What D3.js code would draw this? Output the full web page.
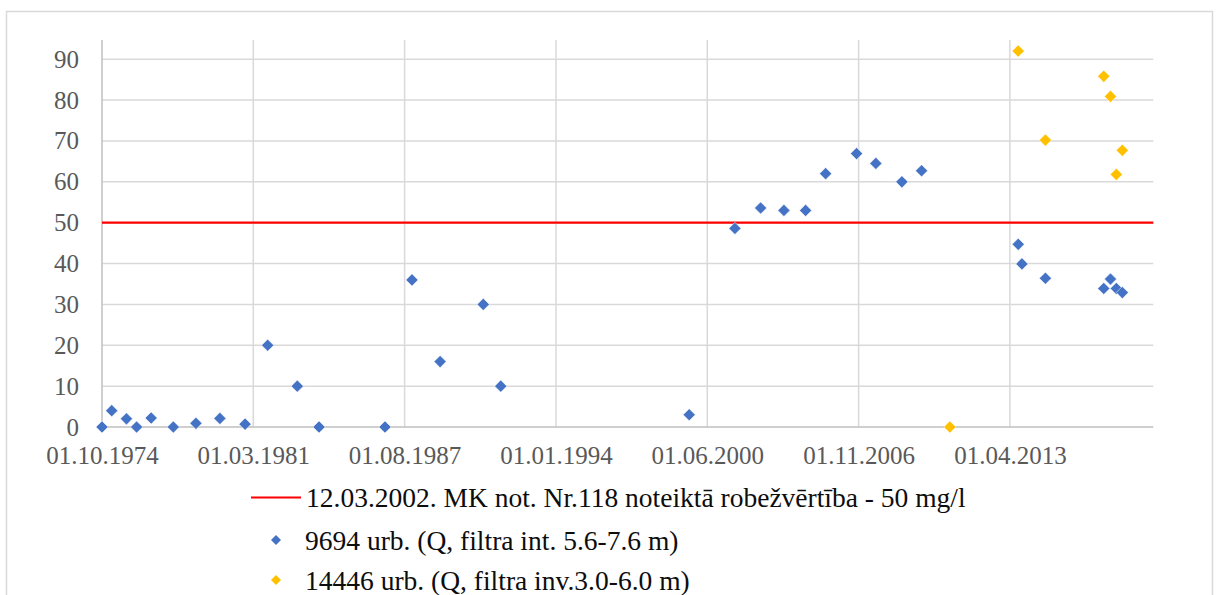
<!DOCTYPE html>
<html>
<head>
<meta charset="utf-8">
<script src="https://cdn.jsdelivr.net/npm/d3@7"></script>
<style>
  body { margin: 0; background: #fff; }
  text { font-family: "Times New Roman", "Liberation Serif", serif; }
</style>
</head>
<body>
<div id="chart"></div>
<script>
// Data (values in mg/l)
const blueDates = ["1974-10-01", "1975-03-01", "1975-10-15", "1976-03-20", "1976-11-01", "1977-10-10",
  "1978-09-25", "1979-10-01", "1980-10-25", "1981-10-10", "1983-01-12", "1983-12-15", "1986-10-01",
  "1987-11-23", "1989-02-01", "1990-12-01", "1991-08-29", "1999-08-26", "2001-08-03", "2002-09-05",
  "2003-09-01", "2004-08-02", "2005-06-08", "2006-09-30", "2007-07-26", "2008-09-01", "2009-07-03",
  "2013-08-08", "2013-10-04", "2014-10-03", "2017-03-25", "2017-07-07", "2017-10-05", "2018-01-06"];
const blueValues = [0, 4, 2, 0, 2.2, 0, 0.9, 2.1, 0.7, 20, 10, 0, 0, 36, 16, 30, 10, 3, 48.6, 53.6,
  53, 53, 62, 66.9, 64.5, 60, 62.7, 44.7, 39.9, 36.4, 33.9, 36.2, 33.9, 32.9];

const orangeDates = ["2010-09-14", "2013-08-08", "2014-10-03", "2017-03-25", "2017-07-07", "2017-10-05", "2018-01-06"];
const orangeValues = [0, 92, 70.2, 85.8, 80.9, 61.8, 67.7];

const limitValue = 50;
const xTickLabels = ["01.10.1974", "01.03.1981", "01.08.1987", "01.01.1994", "01.06.2000", "01.11.2006", "01.04.2013"];
const yTickValues = [0, 10, 20, 30, 40, 50, 60, 70, 80, 90];

const legendLabels = [
  "12.03.2002. MK not. Nr.118 noteiktā robežvērtība - 50 mg/l",
  "9694 urb. (Q, filtra int. 5.6-7.6 m)",
  "14446 urb. (Q, filtra inv.3.0-6.0 m)"
];

// Setup
const width = 1219;
const height = 595;
const parseIso = d3.utcParse("%Y-%m-%d");
const parseTick = d3.utcParse("%d.%m.%Y");

const svg = d3.select("#chart")
  .append("svg")
  .attr("width", width)
  .attr("height", height);

// chart area border
svg.append("rect")
  .attr("x", 6.5).attr("y", 11.5)
  .attr("width", 1206).attr("height", 600)
  .attr("fill", "none")
  .attr("stroke", "#d9d9d9")
  .attr("stroke-width", 1.5);

const x = d3.scaleUtc()
  .domain([parseIso("1974-10-01"), parseIso("2019-05-01")])
  .range([102, 1153.3]);

const y = d3.scaleLinear()
  .domain([0, 94.7])
  .range([427, 40]);

const tickDates = xTickLabels.map(parseTick);

// gridlines
const grid = svg.append("g");
grid.selectAll(".hgrid")
  .data(yTickValues.slice(1))
  .join("line")
  .attr("x1", x.range()[0]).attr("x2", x.range()[1])
  .attr("y1", d => y(d)).attr("y2", d => y(d))
  .attr("stroke", "#d9d9d9").attr("stroke-width", 1.5);

grid.selectAll(".vgrid")
  .data(tickDates.slice(1))
  .join("line")
  .attr("x1", d => x(d)).attr("x2", d => x(d))
  .attr("y1", y.range()[1]).attr("y2", y(0))
  .attr("stroke", "#d9d9d9").attr("stroke-width", 1.5);

// axis lines
svg.append("line")
  .attr("x1", x.range()[0]).attr("x2", x.range()[0])
  .attr("y1", y.range()[1]).attr("y2", y(0))
  .attr("stroke", "#bfbfbf").attr("stroke-width", 1.5);
svg.append("line")
  .attr("x1", x.range()[0]).attr("x2", x.range()[1])
  .attr("y1", y(0)).attr("y2", y(0))
  .attr("stroke", "#bfbfbf").attr("stroke-width", 1.5);

// axes (labels only)
const xAxis = svg.append("g")
  .attr("transform", `translate(0,${y(0)})`)
  .call(d3.axisBottom(x)
    .tickValues(tickDates)
    .tickFormat(d3.utcFormat("%d.%m.%Y"))
    .tickSize(0)
    .tickPadding(19));

const yAxis = svg.append("g")
  .attr("transform", `translate(${x.range()[0]},0)`)
  .call(d3.axisLeft(y)
    .tickValues(yTickValues)
    .tickSize(0)
    .tickPadding(23));

[xAxis, yAxis].forEach(a => {
  a.select(".domain").remove();
  a.selectAll("text")
    .attr("fill", "#595959")
    .style("font-family", "'Times New Roman', 'Liberation Serif', serif")
    .style("font-size", "25px");
});

// limit line
svg.append("line")
  .attr("x1", x.range()[0]).attr("x2", x.range()[1])
  .attr("y1", y(limitValue)).attr("y2", y(limitValue))
  .attr("stroke", "#ff0000").attr("stroke-width", 2.2);

// markers
const diamond = d3.symbol().type(d3.symbolSquare).size(74);
const smallDiamond = d3.symbol().type(d3.symbolSquare).size(50);

function drawSeries(dates, values, color) {
  const pts = dates.map((d, i) => ({ date: parseIso(d), value: values[i] }));
  svg.append("g")
    .selectAll("path")
    .data(pts)
    .join("path")
    .attr("d", diamond)
    .attr("transform", d => `translate(${x(d.date)},${y(d.value)}) rotate(45)`)
    .attr("fill", color)
    .attr("stroke", "rgba(255,255,255,0.7)")
    .attr("stroke-width", 0.7);
}

drawSeries(blueDates, blueValues, "#4472c4");
drawSeries(orangeDates, orangeValues, "#ffc000");

// legend
const legend = svg.append("g");
legend.append("line")
  .attr("x1", 251).attr("x2", 301)
  .attr("y1", 497.5).attr("y2", 497.5)
  .attr("stroke", "#ff0000").attr("stroke-width", 2.2);

legend.append("path")
  .attr("d", smallDiamond)
  .attr("transform", "translate(276,540) rotate(45)")
  .attr("fill", "#4472c4");
legend.append("path")
  .attr("d", smallDiamond)
  .attr("transform", "translate(276,580) rotate(45)")
  .attr("fill", "#ffc000");

legend.selectAll("text")
  .data(legendLabels)
  .join("text")
  .attr("x", (d, i) => i === 0 ? 306 : 305)
  .attr("y", (d, i) => [506.5, 549.5, 589.5][i])
  .attr("fill", "#0d0d0d")
  .style("font-size", "27.5px")
  .text(d => d);
</script>
</body>
</html>
